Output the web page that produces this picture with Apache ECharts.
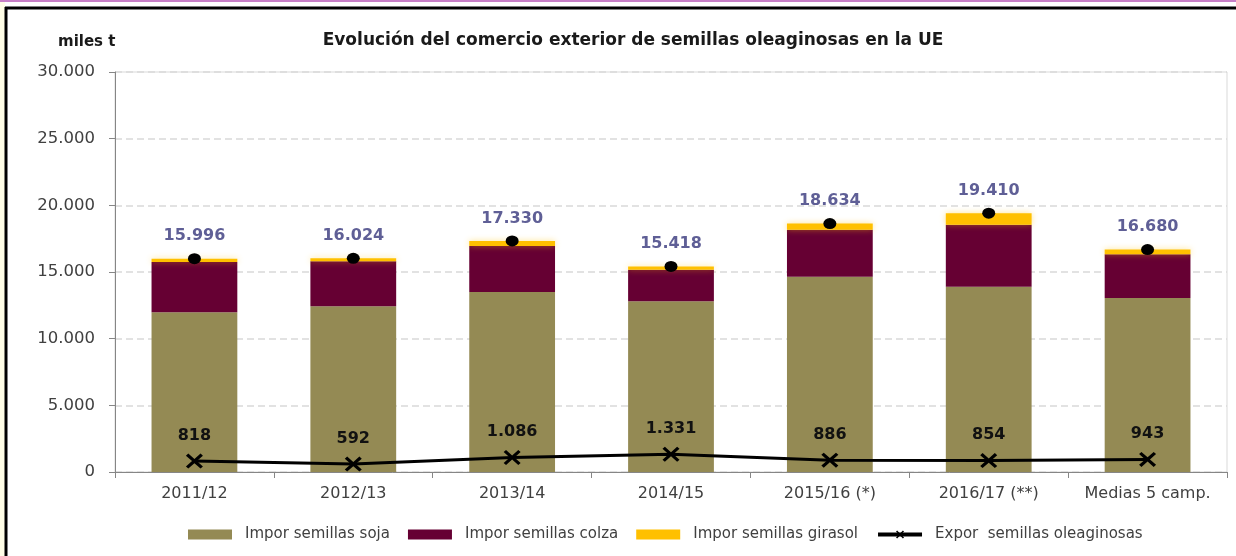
<!DOCTYPE html>
<html>
<head>
<meta charset="utf-8">
<script src="https://cdn.jsdelivr.net/npm/echarts@6/dist/echarts.min.js"></script>
<style>
html,body{margin:0;padding:0;background:#fff;}
#c{width:1236px;height:556px;}
</style>
</head>
<body>
<div id="c"></div>
<script>
var categories = ['2011/12', '2012/13', '2013/14', '2014/15', '2015/16 (*)', '2016/17 (**)', 'Medias 5 camp.'];
var soja = [11980, 12430, 13500, 12800, 14650, 13900, 13050];
var colza = [3770, 3370, 3450, 2375, 3525, 4650, 3275];
var girasol = [246, 224, 380, 243, 459, 860, 355];
var totals = [15996, 16024, 17330, 15418, 18634, 19410, 16680];
var expor = [818, 592, 1086, 1331, 886, 854, 943];
var yTicks = {min: 0, max: 30000, interval: 5000};

function fmt(v) {
  return String(v).replace(/\B(?=(\d{3})+(?!\d))/g, '.');
}
var FONT = '"DejaVu Sans"';
var xSym = 'path://M0,1.4L1.4,0L5,3.6L8.6,0L10,1.4L6.4,5L10,8.6L8.6,10L5,6.4L1.4,10L0,8.6L3.6,5Z';

var chart = echarts.init(document.getElementById('c'));
chart.setOption({
  backgroundColor: '#ffffff',
  animation: false,
  title: {
    text: 'Evolución del comercio exterior de semillas oleaginosas en la UE',
    left: 628, top: 27, textAlign: 'center',
    textStyle: {fontFamily: FONT, fontSize: 17, fontWeight: 'bold', color: '#1a1a1a'}
  },
  graphic: [
    {type: 'rect', shape: {x: 0, y: 0, width: 5, height: 556}, style: {fill: '#FFFDE6'}, z: 100},
    {type: 'line', shape: {x1: 0, y1: 1, x2: 1236, y2: 1}, style: {stroke: '#C77FC7', lineWidth: 2}, z: 100},
    {type: 'line', shape: {x1: 5, y1: 8, x2: 1236, y2: 8}, style: {stroke: '#000', lineWidth: 3}, z: 100},
    {type: 'line', shape: {x1: 6, y1: 7, x2: 6, y2: 556}, style: {stroke: '#000', lineWidth: 3}, z: 100},
    {type: 'text', left: 58, top: 35, style: {text: 'miles t', font: 'bold 15px "DejaVu Sans"', fill: '#1a1a1a'}}
  ],
  grid: {left: 115, right: 9, top: 72, bottom: 84, show: true, borderColor: '#D9D9D9', borderWidth: 1},
  legend: {
    left: 183, top: 522,
    itemWidth: 44, itemHeight: 10, itemGap: 18,
    textStyle: {fontFamily: FONT, fontSize: 15, color: '#404040', padding: [0, 0, 0, 8]},
    data: [
      {name: 'Impor semillas soja', icon: 'rect'},
      {name: 'Impor semillas colza', icon: 'rect'},
      {name: 'Impor semillas girasol', icon: 'rect'},
      {name: 'Expor  semillas oleaginosas', itemStyle: {color: '#000'}, lineStyle: {width: 4, color: '#000'}}
    ]
  },
  xAxis: {
    type: 'category', data: categories, boundaryGap: true,
    axisLine: {lineStyle: {color: '#868686', width: 1}},
    axisTick: {show: true, interval: 0, length: 6, lineStyle: {color: '#868686'}},
    axisLabel: {interval: 0, margin: 14, fontFamily: FONT, fontSize: 16, color: '#404040'}
  },
  yAxis: {
    type: 'value', min: yTicks.min, max: yTicks.max, interval: yTicks.interval,
    axisLine: {show: true, lineStyle: {color: '#868686', width: 1}},
    axisTick: {show: true, length: 6, lineStyle: {color: '#868686'}},
    axisLabel: {margin: 20, fontFamily: FONT, fontSize: 16.5, color: '#404040', formatter: function (v) { return fmt(v); }},
    splitLine: {show: true, lineStyle: {color: '#D9D9D9', width: 1.5, type: [7, 4]}}
  },
  series: [
    {name: 'Impor semillas soja', type: 'bar', stack: 'imp', data: soja, barWidth: '54%',
     itemStyle: {color: '#948A54'}},
    {name: 'Impor semillas colza', type: 'bar', stack: 'imp', data: colza,
     itemStyle: {color: '#660033'}},
    {name: 'Impor semillas girasol', type: 'bar', stack: 'imp', data: girasol,
     itemStyle: {color: '#FFC000', shadowBlur: 6, shadowColor: 'rgba(255,192,0,0.45)'}},
    {name: 'Total', type: 'scatter', data: totals, symbol: 'circle', symbolSize: [13, 11],
     itemStyle: {color: '#000', opacity: 1}, z: 5,
     label: {show: true, position: 'top', distance: 9, fontFamily: FONT, fontSize: 16, fontWeight: 'bold', color: '#5F5F96',
       formatter: function (p) { return fmt(p.value); }}},
    {name: 'Expor  semillas oleaginosas', type: 'line', data: expor,
     symbol: xSym, symbolSize: [17, 15], showAllSymbol: true,
     lineStyle: {color: '#000', width: 3}, itemStyle: {color: '#000'}, z: 6,
     label: {show: true, position: 'top', distance: 10, fontFamily: FONT, fontSize: 16, fontWeight: 'bold', color: '#111',
       formatter: function (p) { return fmt(p.value); }}}
  ]
});
</script>
</body>
</html>
